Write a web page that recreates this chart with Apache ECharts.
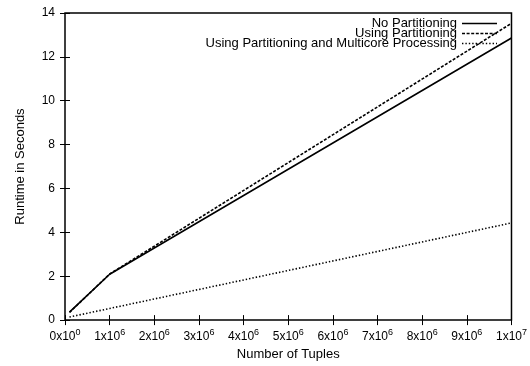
<!DOCTYPE html>
<html>
<head>
<meta charset="utf-8">
<script src="https://cdn.jsdelivr.net/npm/echarts@6/dist/echarts.min.js"></script>
<style>
  html, body { margin: 0; padding: 0; background: #fff; }
  #chart { width: 530px; height: 366px; }
</style>
</head>
<body>
<div id="chart"></div>
<script>
// Runtime measurements (seconds) against number of tuples
const tuples = [100000, 1000000, 10000000];
const noPartitioning = [0.36, 2.09, 12.86];
const usingPartitioning = [0.35, 2.10, 13.53];
const partitioningMulticore = [0.14, 0.53, 4.43];

const seriesNames = [
  'No Partitioning',
  'Using Partitioning',
  'Using Partitioning and Multicore Processing'
];

// x tick labels as mantissa x 10^exponent
const xTickLabels = ['0x10^0', '1x10^6', '2x10^6', '3x10^6', '4x10^6', '5x10^6',
                     '6x10^6', '7x10^6', '8x10^6', '9x10^6', '1x10^7'];
const yTickLabels = ['0', '2', '4', '6', '8', '10', '12', '14'];

const FONT = 'Liberation Sans, Arial, Helvetica, sans-serif';

// line styles shared by the plotted series and the key
const lineStyles = [
  { color: '#000', width: 1.6, type: 'solid' },
  { color: '#000', width: 1.6, type: [3, 1.6] },
  { color: '#000', width: 1.6, type: [1.4, 2] }
];

function pairs(xs, ys) {
  return xs.map((x, i) => [x, ys[i]]);
}

function xLabel(value) {
  const idx = Math.round(value / 1e6);
  const txt = xTickLabels[idx];
  if (!txt) return '';
  const parts = txt.split('^');
  return '{b|' + parts[0] + '}{s|' + parts[1] + '}';
}

// key in the upper right: right-aligned names followed by line samples
function keyGraphics() {
  const els = [];
  const textRight = 457, lineX1 = 462, lineX2 = 497, firstRow = 23.5, rowStep = 10;
  seriesNames.forEach((name, i) => {
    const y = firstRow + i * rowStep;
    els.push({
      type: 'text', x: textRight, y: y, z: 10,
      style: { text: name, fill: '#000', font: '13px ' + FONT, align: 'right', verticalAlign: 'middle' }
    });
    const ls = lineStyles[i];
    els.push({
      type: 'line', z: 10,
      shape: { x1: lineX1, y1: y, x2: lineX2, y2: y },
      style: { stroke: ls.color, lineWidth: ls.width, lineDash: Array.isArray(ls.type) ? ls.type : null }
    });
  });
  return els;
}

const chart = echarts.init(document.getElementById('chart'), null, { renderer: 'canvas' });

const tickStyle = { show: true, inside: true, length: 5, lineStyle: { color: '#000', width: 1 } };

chart.setOption({
  animation: false,
  backgroundColor: '#fff',
  textStyle: { fontFamily: FONT },
  grid: {
    left: 65, right: 17, top: 13, bottom: 43,
    show: true, borderColor: '#000', borderWidth: 1.5, backgroundColor: 'transparent'
  },
  graphic: keyGraphics(),
  xAxis: [{
    type: 'value',
    min: 0, max: 10000000, interval: 1000000,
    name: 'Number of Tuples',
    nameLocation: 'middle',
    nameGap: 19,
    nameTextStyle: { fontFamily: FONT, fontSize: 13, color: '#000' },
    axisLine: { show: false },
    axisTick: tickStyle,
    splitLine: { show: false },
    axisLabel: {
      color: '#000',
      margin: 8,
      formatter: xLabel,
      rich: {
        b: { fontFamily: FONT, fontSize: 12, color: '#000', lineHeight: 15, verticalAlign: 'bottom' },
        s: { fontFamily: FONT, fontSize: 9, color: '#000', lineHeight: 15, verticalAlign: 'top' }
      }
    }
  }, {
    type: 'value',
    position: 'top',
    min: 0, max: 10000000, interval: 1000000,
    axisLine: { show: false },
    axisTick: tickStyle,
    axisLabel: { show: false },
    splitLine: { show: false }
  }],
  yAxis: [{
    type: 'value',
    min: 0, max: 14, interval: 2,
    name: 'Runtime in Seconds',
    nameLocation: 'middle',
    nameGap: 38,
    nameRotate: 90,
    nameTextStyle: { fontFamily: FONT, fontSize: 13, color: '#000' },
    axisLine: { show: false },
    axisTick: tickStyle,
    splitLine: { show: false },
    axisLabel: {
      color: '#000', fontFamily: FONT, fontSize: 12, margin: 10,
      formatter: (v) => yTickLabels[Math.round(v / 2)] ?? ''
    }
  }, {
    type: 'value',
    position: 'right',
    min: 0, max: 14, interval: 2,
    axisLine: { show: false },
    axisTick: tickStyle,
    axisLabel: { show: false },
    splitLine: { show: false }
  }],
  series: [
    {
      name: seriesNames[2], type: 'line', symbol: 'none', z: 2,
      data: pairs(tuples, partitioningMulticore),
      lineStyle: lineStyles[2]
    },
    {
      name: seriesNames[1], type: 'line', symbol: 'none', z: 3,
      data: pairs(tuples, usingPartitioning),
      lineStyle: lineStyles[1]
    },
    {
      name: seriesNames[0], type: 'line', symbol: 'none', z: 4,
      data: pairs(tuples, noPartitioning),
      lineStyle: lineStyles[0]
    }
  ]
});
</script>
</body>
</html>
